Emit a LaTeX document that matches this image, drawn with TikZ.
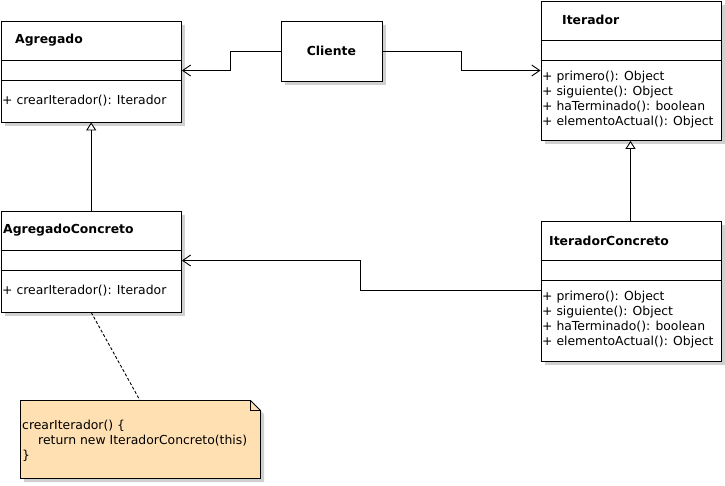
\documentclass[tikz,border=0pt]{standalone}
\usepackage{fontspec}
\setmainfont{DejaVu Sans}
\usetikzlibrary{arrows.meta,shadows,calc}
\definecolor{notefill}{RGB}{255,224,178}
\definecolor{shadowgray}{RGB}{208,208,208}
\tikzset{
  umlbox/.style={draw=black, line width=0.9pt, fill=white, inner sep=0pt, anchor=north west,
     drop shadow={shadow xshift=4pt, shadow yshift=-4pt, fill=shadowgray, opacity=1}},
  sep/.style={line width=0.9pt},
  title/.style={font=\fontsize{12.4}{15}\selectfont\bfseries, inner sep=0pt, anchor=west},
  meth/.style={font=\fontsize{12.4}{15}\selectfont, inner sep=0pt, anchor=west},
  assoc/.style={line width=0.9pt, -{Straight Barb[length=8pt,width=11pt,line width=0.9pt]}},
  gen/.style={line width=0.9pt, -{Triangle[open,length=8pt,width=10pt,line width=0.9pt,fill=white]}},
  notelink/.style={line width=0.9pt, dashed, dash pattern=on 3pt off 2pt}
}
\begin{document}
\begin{tikzpicture}[x=1pt,y=-1pt]
\useasboundingbox (0,0) rectangle (725,485);
% Agregado
\node[umlbox, minimum width=180.5pt, minimum height=101pt] (agr) at (0.5,20.5) {};
\draw[sep] (0.5,60) -- (181,60) (0.5,80) -- (181,80);
\node[title] (agrT) at (15,40.5) {Agregado};
\node[meth] (agrM) at (2,101) {+ crearIterador(): Iterador};
% Cliente
\node[umlbox, minimum width=101pt, minimum height=60pt] (cli) at (280.5,20.5) {};
\node[title, anchor=center] (cliT) at (cli.center) {Cliente};
% Iterador
\node[umlbox, minimum width=180pt, minimum height=139.5pt] (it) at (540.5,0.5) {};
\draw[sep] (540.5,40) -- (720.5,40) (540.5,60) -- (720.5,60);
\node[title] (itT) at (562,19.5) {Iterador};
\node[meth] (itM1) at (542,77) {+ primero(): Object};
\node[meth] (itM2) at (542,92) {+ siguiente(): Object};
\node[meth] (itM3) at (542,107) {+ haTerminado(): boolean};
\node[meth] (itM4) at (542,122) {+ elementoActual(): Object};
% IteradorConcreto
\node[umlbox, minimum width=180pt, minimum height=140pt] (itc) at (540.5,220.5) {};
\draw[sep] (540.5,260) -- (720.5,260) (540.5,280) -- (720.5,280);
\node[title] (itcT) at (549,240.5) {IteradorConcreto};
\node[meth] (itcM1) at (542,297) {+ primero(): Object};
\node[meth] (itcM2) at (542,312) {+ siguiente(): Object};
\node[meth] (itcM3) at (542,327) {+ haTerminado(): boolean};
\node[meth] (itcM4) at (542,342) {+ elementoActual(): Object};
% AgregadoConcreto
\node[umlbox, minimum width=180.5pt, minimum height=101pt] (agc) at (0.5,210.5) {};
\draw[sep] (0.5,250) -- (181,250) (0.5,270) -- (181,270);
\node[title] (agcT) at (3,230) {AgregadoConcreto};
\node[meth] (agcM) at (2,291) {+ crearIterador(): Iterador};
% Note
\fill[shadowgray] (24,404) -- (254,404) -- (264,414) -- (264,482) -- (24,482) -- cycle;
\draw[line width=0.9pt, fill=notefill] (20.5,400.5) -- (250.5,400.5) -- (260.5,410.5) -- (260.5,478.5) -- (20.5,478.5) -- cycle;
\draw[line width=0.9pt] (250.5,400.5) -- (250.5,410.5) -- (260.5,410.5);
\coordinate (noteTop) at (140,400.5);
\node[meth] (n1) at (22,425.5) {crearIterador() \{};
\node[meth] (n2) at (38,440.5) {return new IteradorConcreto(this)};
\node[meth] (n3) at (22,455.5) {\}};
% Connectors
\draw[assoc] (cli.west) -- ++(-50,0) |- ($(agr.north east)+(0,50)$);
\draw[assoc] (cli.east) -- ++(79,0) |- ($(it.north west)+(0,70)$);
\draw[assoc] ($(itc.north west)+(0,70)$) -- ++(-180,0) |- ($(agc.north east)+(0,50)$);
\draw[gen] (agc.north) -- (agr.south);
\draw[gen] ($(itc.north west)+(90,0)$) -- ($(it.south west)+(90,0)$);
\draw[notelink] (agc.south) -- (noteTop);
\end{tikzpicture}
\end{document}
